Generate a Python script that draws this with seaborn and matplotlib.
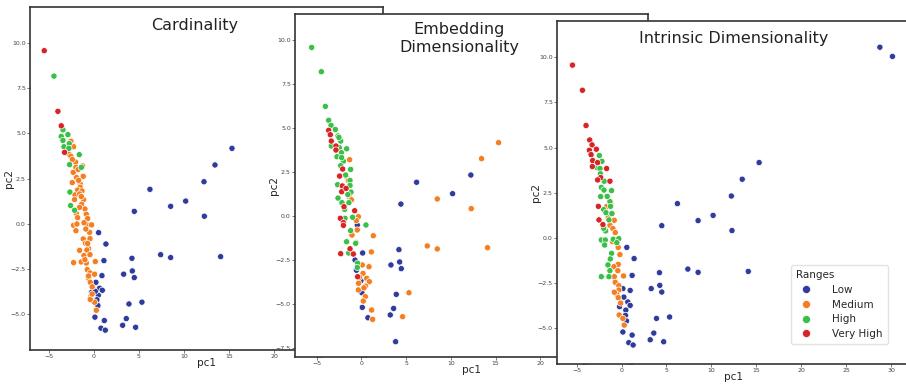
import pandas as pd
import matplotlib.pyplot as plt
import seaborn as sns

# Range categories and their colours
range_order = ['Low', 'Medium', 'High', 'Very High']
range_colors = ['#2f3c9e', '#f47f22', '#3bbf48', '#d82424']

# Points shared by the blue "arm"
far_low = [(4.48, 0.68), (6.22, 1.9), (10.19, 1.25), (12.22, 2.32), (4.22, -1.92),
           (3.3, -2.8), (4.26, -2.62), (4.48, -2.99), (3.89, -4.45), (3.59, -5.26),
           (3.19, -5.63), (28.75, 10.55), (30.15, 10.04)]

# Panel 1: Cardinality
card_low = far_low + [
    (8.52, 0.96), (13.44, 3.25), (15.33, 4.17), (12.26, 0.41), (7.41, -1.72),
    (8.52, -1.88), (14.07, -1.83), (5.33, -4.35), (4.63, -5.74),
    (0.52, -0.5), (1.33, -1.13), (1.11, -2.05), (0.89, -2.88), (0.22, -3.25),
    (0.63, -3.58), (0.93, -3.69), (-0.26, -3.8), (0.48, -3.97), (0.15, -3.75),
    (0.33, -4.22), (0.44, -4.54), (0.11, -5.18), (1.15, -5.37), (0.78, -5.79),
    (1.26, -5.9)]
card_medium = [
    (-2.56, 4.56), (-2.26, 4.26), (-2.81, 3.87), (-2.56, 3.73), (-2.04, 3.41),
    (-2.0, 3.12), (-1.26, 3.19), (-2.3, 2.84), (-1.19, 2.62), (-1.93, 2.55),
    (-2.41, 2.27), (-1.52, 2.2), (-1.52, 2.01), (-1.81, 1.86), (-1.33, 1.81),
    (-2.11, 1.59), (-1.59, 1.64), (-1.15, 1.33), (-2.15, 1.33), (-1.37, 1.07),
    (-1.0, 0.81), (-1.96, 0.57), (-0.85, 0.52), (-1.81, 0.33), (-0.7, 0.28),
    (-2.26, -0.09), (-1.89, -0.02), (-0.78, -0.07), (-0.26, -0.07), (-2.0, -0.39),
    (-0.48, -0.48), (-1.19, -0.85), (-0.44, -0.83), (-0.93, -1.09), (-0.59, -1.38),
    (-1.59, -1.48), (-0.78, -1.46), (-1.11, -1.77), (-0.44, -1.72), (-1.41, -2.12),
    (-2.26, -2.16), (-0.85, -2.18), (0.15, -2.1), (-0.74, -2.55), (-0.41, -2.73),
    (0.07, -2.8), (-0.59, -3.03), (-0.41, -3.25), (-0.19, -3.5), (-0.33, -4.02),
    (0.07, -4.35), (0.26, -4.8), (-0.41, -4.2), (-2.4, 3.55), (-1.7, 2.4),
    (-1.4, 1.5), (-1.6, 0.9), (-0.9, -0.3), (-0.7, -1.1), (-1.0, -2.0),
    (-0.6, -2.9), (-0.2, -3.9), (-1.1, 0.05), (-1.75, 3.0)]
card_high = [
    (-4.44, 8.17), (-3.44, 5.2), (-3.63, 4.83), (-2.89, 4.93), (-3.44, 4.61),
    (-3.33, 4.26), (-2.74, 4.43), (-2.78, 4.17), (-1.63, 3.82), (-2.7, 3.27),
    (-1.4, 3.12), (-2.67, 1.75), (-2.59, 1.0), (-2.15, 0.74)]
card_very_high = [(-5.52, 9.58), (-4.0, 6.22), (-3.63, 5.42), (-3.26, 3.95)]

# Panel 2: Embedding Dimensionality
embed_low = [
    (4.42, 0.66), (6.17, 1.9), (10.19, 1.25), (12.23, 2.31), (4.2, -1.93),
    (3.31, -2.8), (4.28, -2.63), (4.46, -3.01), (3.9, -4.47), (3.61, -5.27),
    (3.23, -5.64), (3.83, -7.16), (0.15, -2.12), (-0.45, -0.53), (-0.7, -2.52),
    (-0.04, -3.69), (0.07, -4.38), (0.11, -5.21), (0.74, -5.8), (-0.55, -3.1),
    (28.75, 10.55), (30.15, 10.04)]
embed_medium = [
    (-1.3, 3.18), (-1.56, 2.12), (-1.34, 1.08), (-0.33, -0.06), (-0.56, -0.28),
    (-0.45, -0.81), (-1.04, -1.1), (-0.56, -1.53), (1.34, -1.14), (1.12, -2.06),
    (0.86, -2.9), (0.11, -2.8), (0.19, -3.28), (0.6, -3.56), (0.89, -3.75),
    (-0.3, -3.84), (0.48, -4.0), (-0.33, -4.22), (0.45, -4.6), (0.22, -4.85),
    (1.15, -5.36), (1.26, -5.89), (5.32, -4.38), (4.61, -5.74), (8.48, 0.95),
    (12.27, 0.4), (13.42, 3.24), (15.32, 4.15), (7.36, -1.72), (8.48, -1.89),
    (14.09, -1.82), (-1.45, 2.0), (-1.1, 0.9), (-0.2, -3.5), (0.3, -4.1)]
embed_high = [
    (-5.54, 9.56), (-4.46, 8.18), (-4.01, 6.21), (-3.64, 5.42), (-3.38, 5.13),
    (-2.9, 4.9), (-2.6, 4.53), (-2.3, 4.24), (-3.35, 3.96), (-2.45, 3.86),
    (-1.64, 3.8), (-2.23, 3.58), (-2.71, 3.35), (-2.0, 3.1), (-2.3, 2.84),
    (-1.19, 2.63), (-1.75, 2.31), (-2.64, 1.76), (-1.26, 2.0), (-1.26, 1.72),
    (-1.15, 1.34), (-2.6, 1.0), (-2.16, 0.74), (-1.38, 0.74), (-1.86, 0.36),
    (-0.97, -0.09), (0.52, -0.53), (-1.19, -0.85), (-1.64, -1.48), (-0.63, -1.57),
    (-1.41, -2.12), (-0.89, -2.14), (-0.41, -2.7), (-0.45, -2.94), (-1.82, -0.15),
    (-2.5, 4.45), (-2.2, 3.3), (-1.5, 1.2)]
embed_very_high = [
    (-3.64, 4.85), (-3.46, 4.6), (-3.35, 4.24), (-2.83, 3.96), (-2.83, 3.73),
    (-2.08, 2.65), (-2.42, 2.25), (-2.12, 1.69), (-2.19, 1.36), (-1.93, 0.51),
    (-2.34, -0.15), (-2.0, -0.4), (-0.74, 0.28), (-1.26, -1.88), (-0.89, -2.18),
    (-2.3, -2.16), (-0.41, -3.47), (-2.0, -0.55), (-1.7, 1.55)]

# Panel 3: Intrinsic Dimensionality
intr_low = far_low + [
    (8.52, 0.96), (13.43, 3.25), (15.31, 4.17), (12.29, 0.41), (7.38, -1.72),
    (8.52, -1.9), (14.1, -1.85), (5.35, -4.37), (4.69, -5.74),
    (0.59, -0.52), (1.4, -1.14), (1.18, -2.07), (0.96, -2.9), (0.15, -2.8),
    (0.26, -3.27), (0.7, -3.54), (0.96, -3.73), (-0.22, -3.8), (0.48, -3.99),
    (0.44, -4.28), (0.55, -4.59), (0.15, -5.2), (1.18, -5.37), (0.81, -5.79),
    (1.29, -5.92)]
intr_medium = [
    (-1.66, 1.73), (-1.48, 1.14), (-0.81, 0.98), (-1.29, 0.7), (-0.96, 0.52),
    (-0.7, 0.3), (-0.37, -0.52), (-0.18, -0.92), (-0.37, -1.46), (-0.85, -1.59),
    (-0.41, -1.81), (0.22, -2.1), (-0.81, -2.14), (-0.7, -2.45), (-0.3, -2.64),
    (-0.3, -2.88), (-0.52, -3.12), (-0.37, -3.3), (-0.8, -3.0), (-0.1, -3.6),
    (-0.26, -4.26), (0.3, -4.82), (0.15, -4.45), (-1.2, 1.9), (-1.0, -0.2)]
intr_high = [
    (-2.47, 4.56), (-2.18, 4.24), (-2.73, 3.89), (-2.4, 3.84), (-2.35, 3.55),
    (-1.92, 3.14), (-1.11, 2.62), (-2.25, 2.8), (-1.95, 2.65), (-2.32, 2.29),
    (-1.29, 2.01), (-1.99, 1.57), (-1.73, 1.4), (-1.07, 1.35), (-1.22, 1.75),
    (-1.85, 0.5), (-1.77, 0.39), (-2.25, -0.11), (-1.81, -0.11), (-0.92, -0.07),
    (-0.3, -0.04), (-0.52, -0.26), (-1.88, -0.39), (-1.11, -0.85), (-1.25, -1.16),
    (-1.51, -1.49), (-1.29, -1.81), (-1.4, -2.14), (-2.25, -2.14), (-1.99, 0.54),
    (-1.6, 2.3), (-1.4, 1.0)]
intr_very_high = [
    (-5.46, 9.56), (-4.35, 8.17), (-3.95, 6.22), (-3.54, 5.42), (-3.28, 5.15),
    (-3.58, 4.85), (-2.8, 4.91), (-3.39, 4.61), (-3.21, 4.28), (-2.66, 4.17),
    (-3.25, 3.95), (-1.66, 3.84), (-2.32, 3.34), (-1.29, 3.14), (-2.58, 1.75),
    (-2.51, 1.0), (-2.07, 0.74), (-2.66, 3.21)]


def make_frame(low, medium, high, very_high):
    rows = []
    for name, pts in zip(range_order, [low, medium, high, very_high]):
        for x, y in pts:
            rows.append({'pc1': x, 'pc2': y, 'Ranges': name})
    return pd.DataFrame(rows)


def draw_panel(ax, df, title, tx, ty, xlim, ylim, legend=False):
    sns.scatterplot(data=df, x='pc1', y='pc2', hue='Ranges', hue_order=range_order,
                    palette=range_colors, s=20, edgecolor='white', linewidth=0.5,
                    ax=ax, legend='brief' if legend else False, zorder=3)
    ax.set_xlim(*xlim)
    ax.set_ylim(*ylim)
    ax.set_facecolor('white')
    for sp in ax.spines.values():
        sp.set_color('#333333')
        sp.set_linewidth(1.2)
    ax.tick_params(labelsize=4.5, length=2, width=0.5, pad=1, colors='#444444')
    ax.set_xlabel('pc1', fontsize=7.5)
    ax.set_ylabel('pc2', fontsize=7.5)
    ax.xaxis.set_label_coords(0.5, -0.023)
    ax.yaxis.set_label_coords(-0.044, 0.5)
    ax.text(tx, ty, title, transform=ax.transAxes, ha='center', va='center',
            fontsize=11.5, color='#222222', linespacing=1.25)


sns.set_theme(style='ticks')
plt.rcParams['font.family'] = ['DejaVu Sans']

fig = plt.figure(figsize=(9.06, 3.87), dpi=100)
W, H = 906.0, 387.0

ax1 = fig.add_axes([30 / W, 37 / H, 353 / W, 343 / H])
ax2 = fig.add_axes([295 / W, 30 / H, 353 / W, 343 / H])
ax3 = fig.add_axes([557 / W, 23 / H, 353 / W, 343 / H])

draw_panel(ax1, make_frame(card_low, card_medium, card_high, card_very_high),
           'Cardinality', 0.467, 0.945, (-7.1, 32.1), (-7.0, 12.0))
draw_panel(ax2, make_frame(embed_low, embed_medium, embed_high, embed_very_high),
           'Embedding\nDimensionality', 0.465, 0.93, (-7.4, 32.0), (-8.03, 11.46))
draw_panel(ax3, make_frame(intr_low, intr_medium, intr_high, intr_very_high),
           'Intrinsic Dimensionality', 0.50, 0.948, (-7.18, 32.1), (-6.97, 12.0),
           legend=True)

sns.move_legend(ax3, 'lower right', bbox_to_anchor=(0.938, 0.058), borderaxespad=0,
                title='Ranges', fontsize=7.5, title_fontsize=7.5, markerscale=1.3,
                labelspacing=0.45, handletextpad=1.5, borderpad=0.5, frameon=True,
                alignment='left')
ax3.get_legend().get_frame().set_edgecolor('#dddddd')

fig.savefig('out.png', dpi=100)
